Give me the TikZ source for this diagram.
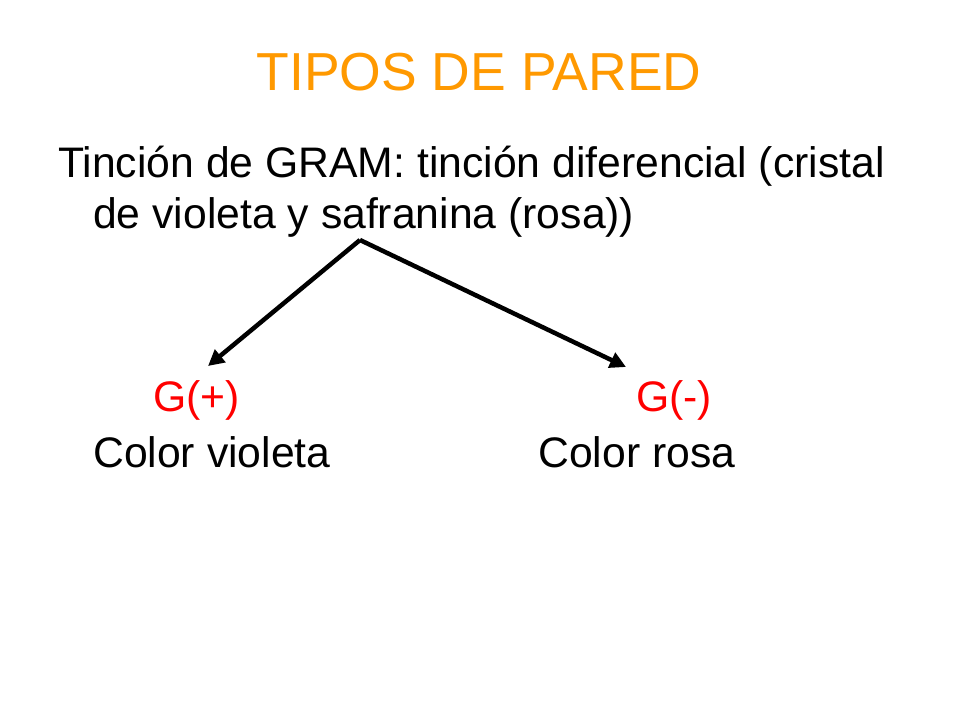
\documentclass[tikz,border=0pt]{standalone}
\usepackage{fontspec}
\setmainfont{Liberation Sans}
\usetikzlibrary{arrows.meta}
\definecolor{titleorange}{RGB}{255,153,0}
\definecolor{gred}{RGB}{255,0,0}
\tikzset{
  px/.style={x=1pt,y=-1pt},
  bodytext/.style={anchor=base west,inner sep=0pt,font=\fontsize{42.7}{51}\selectfont},
  titletext/.style={anchor=base,inner sep=0pt,text=titleorange,font=\fontsize{53.5}{64}\selectfont},
  arrowline/.style={line width=4.5pt,-{Triangle[length=16pt,width=16pt]}}
}
\begin{document}
\begin{tikzpicture}[px]
\useasboundingbox[fill=white] (0,0) rectangle (960,720);
\node[titletext] (title) at (479,90) {TIPOS DE PARED};
\node[bodytext] (l1) at (58,177) {Tinción de GRAM: tinción diferencial (cristal};
\node[bodytext] (l2) at (93,228) {de violeta y safranina (rosa))};
\node[bodytext,text=gred] (gp) at (153,411) {G(+)};
\node[bodytext,text=gred] (gm) at (636,411) {G(-)};
\node[bodytext] (cv) at (93,467) {Color violeta};
\node[bodytext] (cr) at (538,467) {Color rosa};
\coordinate (top) at (360,240);
\coordinate (lt) at (208,366);
\coordinate (rt) at (626,367);
\draw[arrowline] (top) -- (lt);
\draw[arrowline] (top) -- (rt);
\end{tikzpicture}
\end{document}
